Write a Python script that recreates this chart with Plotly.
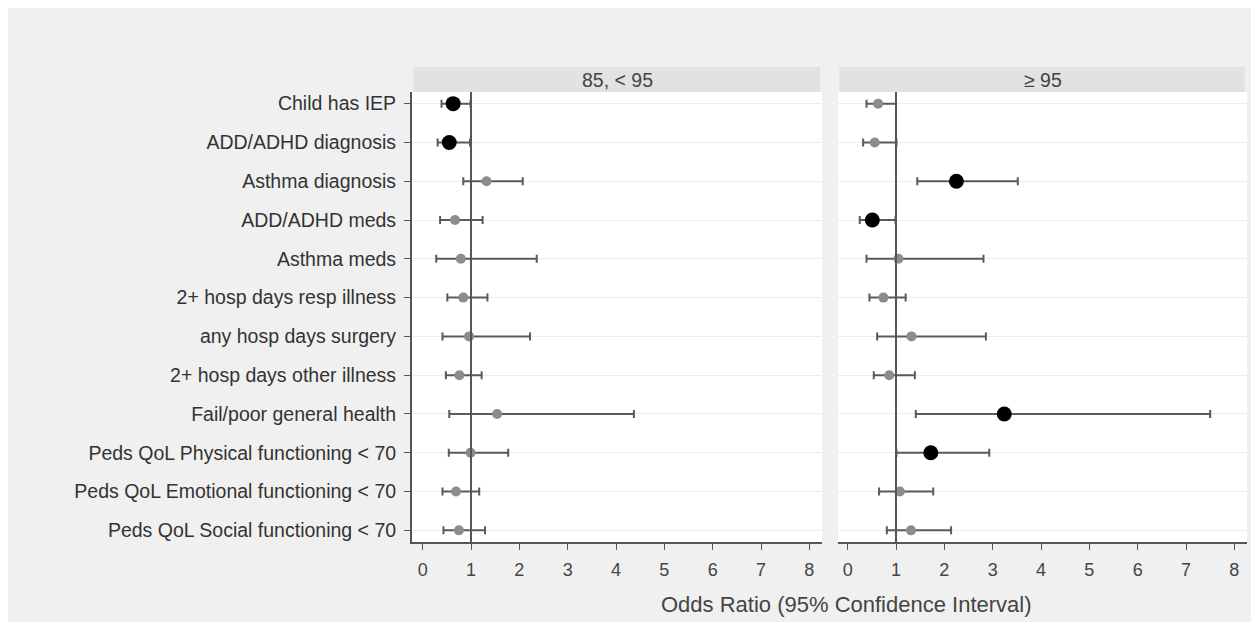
import plotly.graph_objects as go

outcomes = ["Child has IEP", "ADD/ADHD diagnosis", "Asthma diagnosis", "ADD/ADHD meds",
            "Asthma meds", "2+ hosp days resp illness", "any hosp days surgery",
            "2+ hosp days other illness", "Fail/poor general health",
            "Peds QoL Physical functioning < 70", "Peds QoL Emotional functioning < 70",
            "Peds QoL Social functioning < 70"]

panels = ["85, < 95", "\u2265 95"]

or_mid = [0.63, 0.55, 1.32, 0.67, 0.79, 0.84, 0.96, 0.76, 1.54, 0.99, 0.69, 0.75]
or_low = [0.39, 0.31, 0.84, 0.36, 0.28, 0.51, 0.41, 0.48, 0.55, 0.54, 0.41, 0.43]
or_high = [0.99, 0.98, 2.07, 1.24, 2.36, 1.34, 2.22, 1.22, 4.37, 1.77, 1.17, 1.29]
sig_mid = [True, True, False, False, False, False, False, False, False, False, False, False]

ob_mid = [0.63, 0.56, 2.25, 0.51, 1.05, 0.74, 1.32, 0.86, 3.24, 1.72, 1.08, 1.31]
ob_low = [0.39, 0.32, 1.44, 0.25, 0.39, 0.45, 0.61, 0.54, 1.41, 1.01, 0.65, 0.81]
ob_high = [1.00, 1.01, 3.52, 0.99, 2.81, 1.20, 2.86, 1.39, 7.50, 2.93, 1.77, 2.14]
sig_ob = [False, False, True, True, False, False, False, False, True, True, False, False]

x_ticks = [0, 1, 2, 3, 4, 5, 6, 7, 8]

fig = go.Figure()

data_sets = [(or_mid, or_low, or_high, sig_mid, "x", "y"),
             (ob_mid, ob_low, ob_high, sig_ob, "x2", "y2")]

for mid, low, high, sig, xa, ya in data_sets:
    for flag in (False, True):
        idx = [i for i in range(len(outcomes)) if sig[i] == flag]
        fig.add_trace(go.Scatter(
            x=[mid[i] for i in idx],
            y=[outcomes[i] for i in idx],
            mode="markers",
            xaxis=xa, yaxis=ya,
            marker=dict(color="#000000" if flag else "#8c8c8c",
                        size=15 if flag else 10, line=dict(width=0)),
            error_x=dict(type="data", symmetric=False,
                         array=[high[i] - mid[i] for i in idx],
                         arrayminus=[mid[i] - low[i] for i in idx],
                         color="#5a5a5a", thickness=2, width=4),
            showlegend=False,
            hoverinfo="skip",
        ))

OFF = 8  # page body margin
W, H = 1244, 614
L, R, T, B = 404, 5, 84, 80
pw = W - L - R
ph = H - T - B


def px_x(p):
    return (p - OFF - L) / pw


def px_y(p):
    return (H - B - (p - OFF)) / ph


dom1 = [0, px_x(822)]
dom2 = [px_x(838), 1]

common_x = dict(tickvals=x_ticks, ticks="outside", ticklen=6, tickcolor="#555555",
                showline=True, linecolor="#555555", linewidth=2, showgrid=False,
                zeroline=False, ticklabelstandoff=4,
                tickfont=dict(size=18, color="#444444"))
common_y = dict(categoryorder="array", categoryarray=outcomes, range=[11.3, -0.3],
                showgrid=True, gridcolor="#ececec", gridwidth=1, zeroline=False)

fig.update_layout(
    width=W, height=H,
    margin=dict(l=L, r=R, t=T, b=B),
    paper_bgcolor="#f0f0f0", plot_bgcolor="white",
    font=dict(family="Liberation Sans, Arial, sans-serif", color="#333333"),
    xaxis=dict(domain=dom1, range=[-0.221, 8.262], anchor="y", **common_x),
    xaxis2=dict(domain=dom2, range=[-0.2, 8.262], anchor="y2", **common_x),
    yaxis=dict(anchor="x", showline=True, linecolor="#555555", linewidth=2,
               ticks="outside", ticklen=6, tickcolor="#555555", ticklabelstandoff=4,
               tickfont=dict(size=19.5, color="#333333"), **common_y),
    yaxis2=dict(anchor="x2", showticklabels=False, showline=False, ticks="",
                **common_y),
)

shapes = []
for xa in ("x", "x2"):
    shapes.append(dict(type="rect", xref=xa + " domain", yref="paper",
                       x0=0.003, x1=0.995, y0=px_y(92), y1=px_y(67),
                       fillcolor="#e2e2e2", line=dict(width=0)))
    shapes.append(dict(type="line", xref=xa, yref=("y" if xa == "x" else "y2") + " domain",
                       x0=1, x1=1, y0=0, y1=1, line=dict(color="#555555", width=2)))
fig.update_layout(shapes=shapes)

annotations = []
for xa, title in (("x", panels[0]), ("x2", panels[1])):
    annotations.append(dict(text=title, xref=xa + " domain", yref="paper",
                            x=0.5, y=px_y(79.5), yanchor="middle", showarrow=False,
                            font=dict(size=19.5, color="#444444")))
annotations.append(dict(text="Odds Ratio (95% Confidence Interval)", xref="paper", yref="paper",
                        x=px_x(846), y=px_y(604), yanchor="middle", showarrow=False,
                        font=dict(size=22, color="#444444")))
fig.update_layout(annotations=annotations)

fig.write_html("out.html")
